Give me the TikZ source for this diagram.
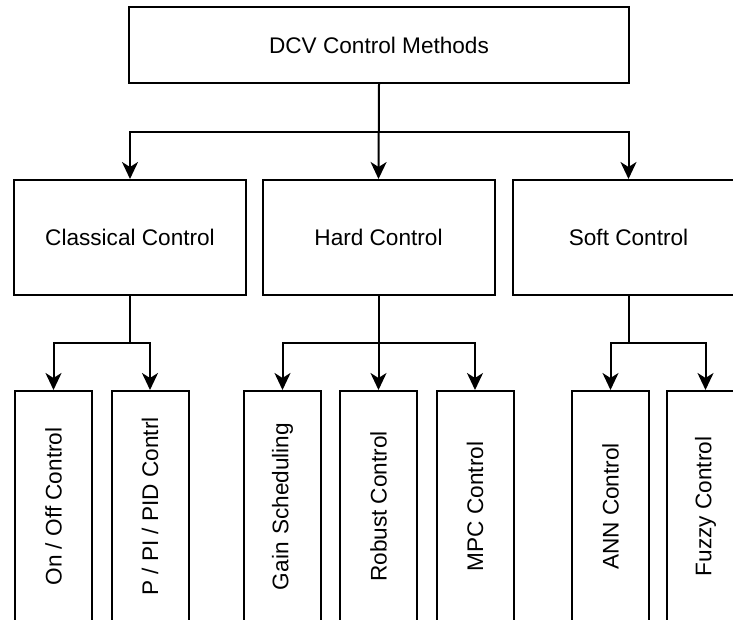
\documentclass[tikz,border=0pt]{standalone}
\usepackage{fontspec}
\setmainfont{Liberation Sans}
\usetikzlibrary{arrows.meta}
\begin{document}
\begin{tikzpicture}[x=1pt,y=-1pt,
  every node/.style={font=\fontsize{22.6}{27}\selectfont},
  box/.style={draw, line width=2pt, inner sep=0pt, fill=white},
  topbox/.style={box, minimum width=500pt, minimum height=76pt},
  midbox/.style={box, minimum width=232pt, minimum height=115pt},
  leafbox/.style={box, minimum width=77pt, minimum height=231pt},
  arr/.style={line width=2pt, -{Stealth[length=17pt, width=16pt, inset=5pt]}}]
  \useasboundingbox (0,0) rectangle (733,620);
  \clip (0,0) rectangle (733,620);

  % root
  \node[topbox] (root) at (379,45) {DCV Control Methods};

  % second level
  \node[midbox] (cls)  at (130,237.5)   {Classical Control};
  \node[midbox] (hard) at (378.5,237.5) {Hard Control};
  \node[midbox] (soft) at (628.5,237.5) {Soft Control};

  % leaves
  \node[leafbox] (onoff)  at (53.5,506.5)  {\rotatebox{90}{On / Off Control}};
  \node[leafbox] (pid)    at (150,506.5)   {\rotatebox{90}{P / PI / PID Contrl}};
  \node[leafbox] (gain)   at (282.5,506.5) {\rotatebox{90}{Gain\,\,Scheduling}};
  \node[leafbox] (robust) at (378.5,506.5) {\rotatebox{90}{Robust Control}};
  \node[leafbox] (mpc)    at (475,506.5)   {\rotatebox{90}{MPC Control}};
  \node[leafbox] (ann)    at (610.5,506.5) {\rotatebox{90}{ANN Control}};
  \node[leafbox] (fuzzy)  at (705.5,506.5) {\rotatebox{90}{Fuzzy Control}};

  % bus heights
  \coordinate (busA) at (0,132);
  \coordinate (busB) at (0,343);

  % root to second level
  \draw[arr] (root.south) -- (root.south |- busA) -| (cls.north);
  \draw[arr] (root.south) -- (hard.north);
  \draw[arr] (root.south) -- (root.south |- busA) -| (soft.north);

  % classical branch
  \draw[arr] (cls.south) -- (cls.south |- busB) -| (onoff.north);
  \draw[arr] (cls.south) -- (cls.south |- busB) -| (pid.north);

  % hard branch
  \draw[arr] (hard.south) -- (hard.south |- busB) -| (gain.north);
  \draw[arr] (hard.south) -- (robust.north);
  \draw[arr] (hard.south) -- (hard.south |- busB) -| (mpc.north);

  % soft branch
  \draw[arr] (soft.south) -- (soft.south |- busB) -| (ann.north);
  \draw[arr] (soft.south) -- (soft.south |- busB) -| (fuzzy.north);
\end{tikzpicture}
\end{document}
